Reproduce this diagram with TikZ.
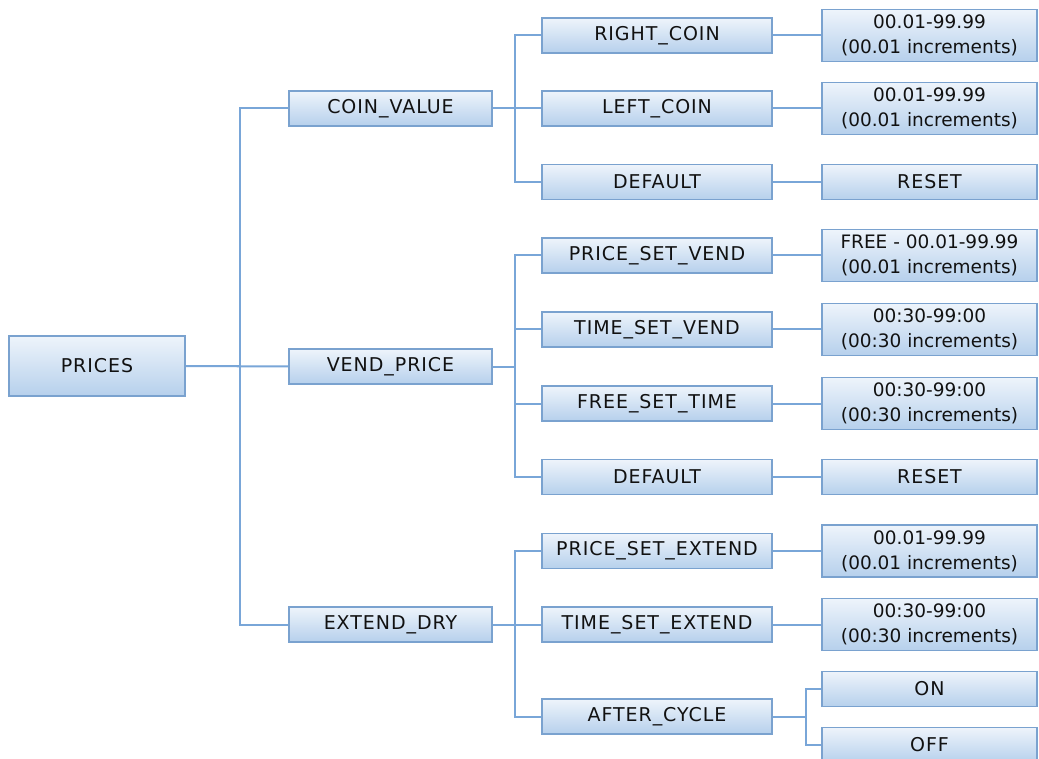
\documentclass[tikz,border=0pt]{standalone}
\usepackage{fontspec}
\setmainfont{DejaVu Sans}
\newfontfamily\labfont[LetterSpace=5]{DejaVu Sans}
\definecolor{boxborder}{HTML}{7AA2CF}
\definecolor{linkcol}{HTML}{79A6D8}
\definecolor{boxtop}{HTML}{EEF4FB}
\definecolor{boxbot}{HTML}{B6D0EC}
\definecolor{txt}{HTML}{111111}
\tikzset{
  box/.style={draw=boxborder, line width=1.6pt, top color=boxtop, bottom color=boxbot,
    inner sep=0pt, align=center, text=txt},
  labtext/.style={font=\labfont\fontsize{19}{25}\selectfont},
  valtext/.style={font=\fontsize{18.5}{25}\selectfont},
  lvlA/.style={box, labtext, minimum width=176pt, minimum height=60pt},
  lvlB/.style={box, labtext, minimum width=203pt, minimum height=35pt},
  lvlC/.style={box, labtext, minimum width=230pt, minimum height=35pt},
  lvlD/.style={box, labtext, minimum width=215pt, minimum height=35pt},
  lvlDD/.style={box, valtext, minimum width=215pt, minimum height=52pt},
  link/.style={draw=linkcol, line width=2pt}
}
\begin{document}
\begin{tikzpicture}[x=1pt,y=-1pt]
\clip (0,0) rectangle (1039,759);
\fill[white] (0,0) rectangle (1039,759);
% level 0
\node[lvlA] (prices) at (97,366) {PRICES};
% level 1
\node[lvlB] (coin) at (390.5,108.5) {COIN\_VALUE};
\node[lvlB] (vend) at (390.5,366.5) {VEND\_PRICE};
\node[lvlB] (extend) at (390.5,624.5) {EXTEND\_DRY};
% level 2
\node[lvlC] (rcoin) at (657,35.5) {RIGHT\_COIN};
\node[lvlC] (lcoin) at (657,108.5) {LEFT\_COIN};
\node[lvlC] (defa) at (657,182) {DEFAULT};
\node[lvlC] (psv) at (657,255.5) {PRICE\_SET\_VEND};
\node[lvlC] (tsv) at (657,329.5) {TIME\_SET\_VEND};
\node[lvlC] (fst) at (657,403.5) {FREE\_SET\_TIME};
\node[lvlC] (defb) at (657,477) {DEFAULT};
\node[lvlC] (pse) at (657,551) {PRICE\_SET\_EXTEND};
\node[lvlC] (tse) at (657,624.5) {TIME\_SET\_EXTEND};
\node[lvlC] (after) at (657,716.5) {AFTER\_CYCLE};
% level 3
\node[lvlDD] (rcoinv) at (929.5,35.5) {00.01-99.99\\(00.01 increments)};
\node[lvlDD] (lcoinv) at (929.5,108.5) {00.01-99.99\\(00.01 increments)};
\node[lvlD] (reseta) at (929.5,182) {RESET};
\node[lvlDD] (psvv) at (929.5,255.5) {FREE - 00.01-99.99\\(00.01 increments)};
\node[lvlDD] (tsvv) at (929.5,329.5) {00:30-99:00\\(00:30 increments)};
\node[lvlDD] (fstv) at (929.5,403.5) {00:30-99:00\\(00:30 increments)};
\node[lvlD] (resetb) at (929.5,477) {RESET};
\node[lvlDD] (psev) at (929.5,551) {00.01-99.99\\(00.01 increments)};
\node[lvlDD] (tsev) at (929.5,624.5) {00:30-99:00\\(00:30 increments)};
\node[lvlD] (on) at (929.5,689) {ON};
\node[lvlD] (off) at (929.5,745) {OFF};
% connectors level 0 -> 1
\draw[link] (prices.east) -- (vend.west);
\draw[link] (prices.east) -- ++(54,0) |- (coin.west);
\draw[link] (prices.east) -- ++(54,0) |- (extend.west);
% level 1 -> 2
\draw[link] (coin.east) -- ++(22,0) |- (rcoin.west);
\draw[link] (coin.east) -- (lcoin.west);
\draw[link] (coin.east) -- ++(22,0) |- (defa.west);
\draw[link] (vend.east) -- ++(22,0) |- (psv.west);
\draw[link] (vend.east) -- ++(22,0) |- (tsv.west);
\draw[link] (vend.east) -- ++(22,0) |- (fst.west);
\draw[link] (vend.east) -- ++(22,0) |- (defb.west);
\draw[link] (extend.east) -- ++(22,0) |- (pse.west);
\draw[link] (extend.east) -- (tse.west);
\draw[link] (extend.east) -- ++(22,0) |- (after.west);
% level 2 -> 3
\draw[link] (rcoin.east) -- (rcoinv.west);
\draw[link] (lcoin.east) -- (lcoinv.west);
\draw[link] (defa.east) -- (reseta.west);
\draw[link] (psv.east) -- (psvv.west);
\draw[link] (tsv.east) -- (tsvv.west);
\draw[link] (fst.east) -- (fstv.west);
\draw[link] (defb.east) -- (resetb.west);
\draw[link] (pse.east) -- (psev.west);
\draw[link] (tse.east) -- (tsev.west);
\draw[link] (after.east) -- ++(33,0) |- (on.west);
\draw[link] (after.east) -- ++(33,0) |- (off.west);
\end{tikzpicture}
\end{document}
